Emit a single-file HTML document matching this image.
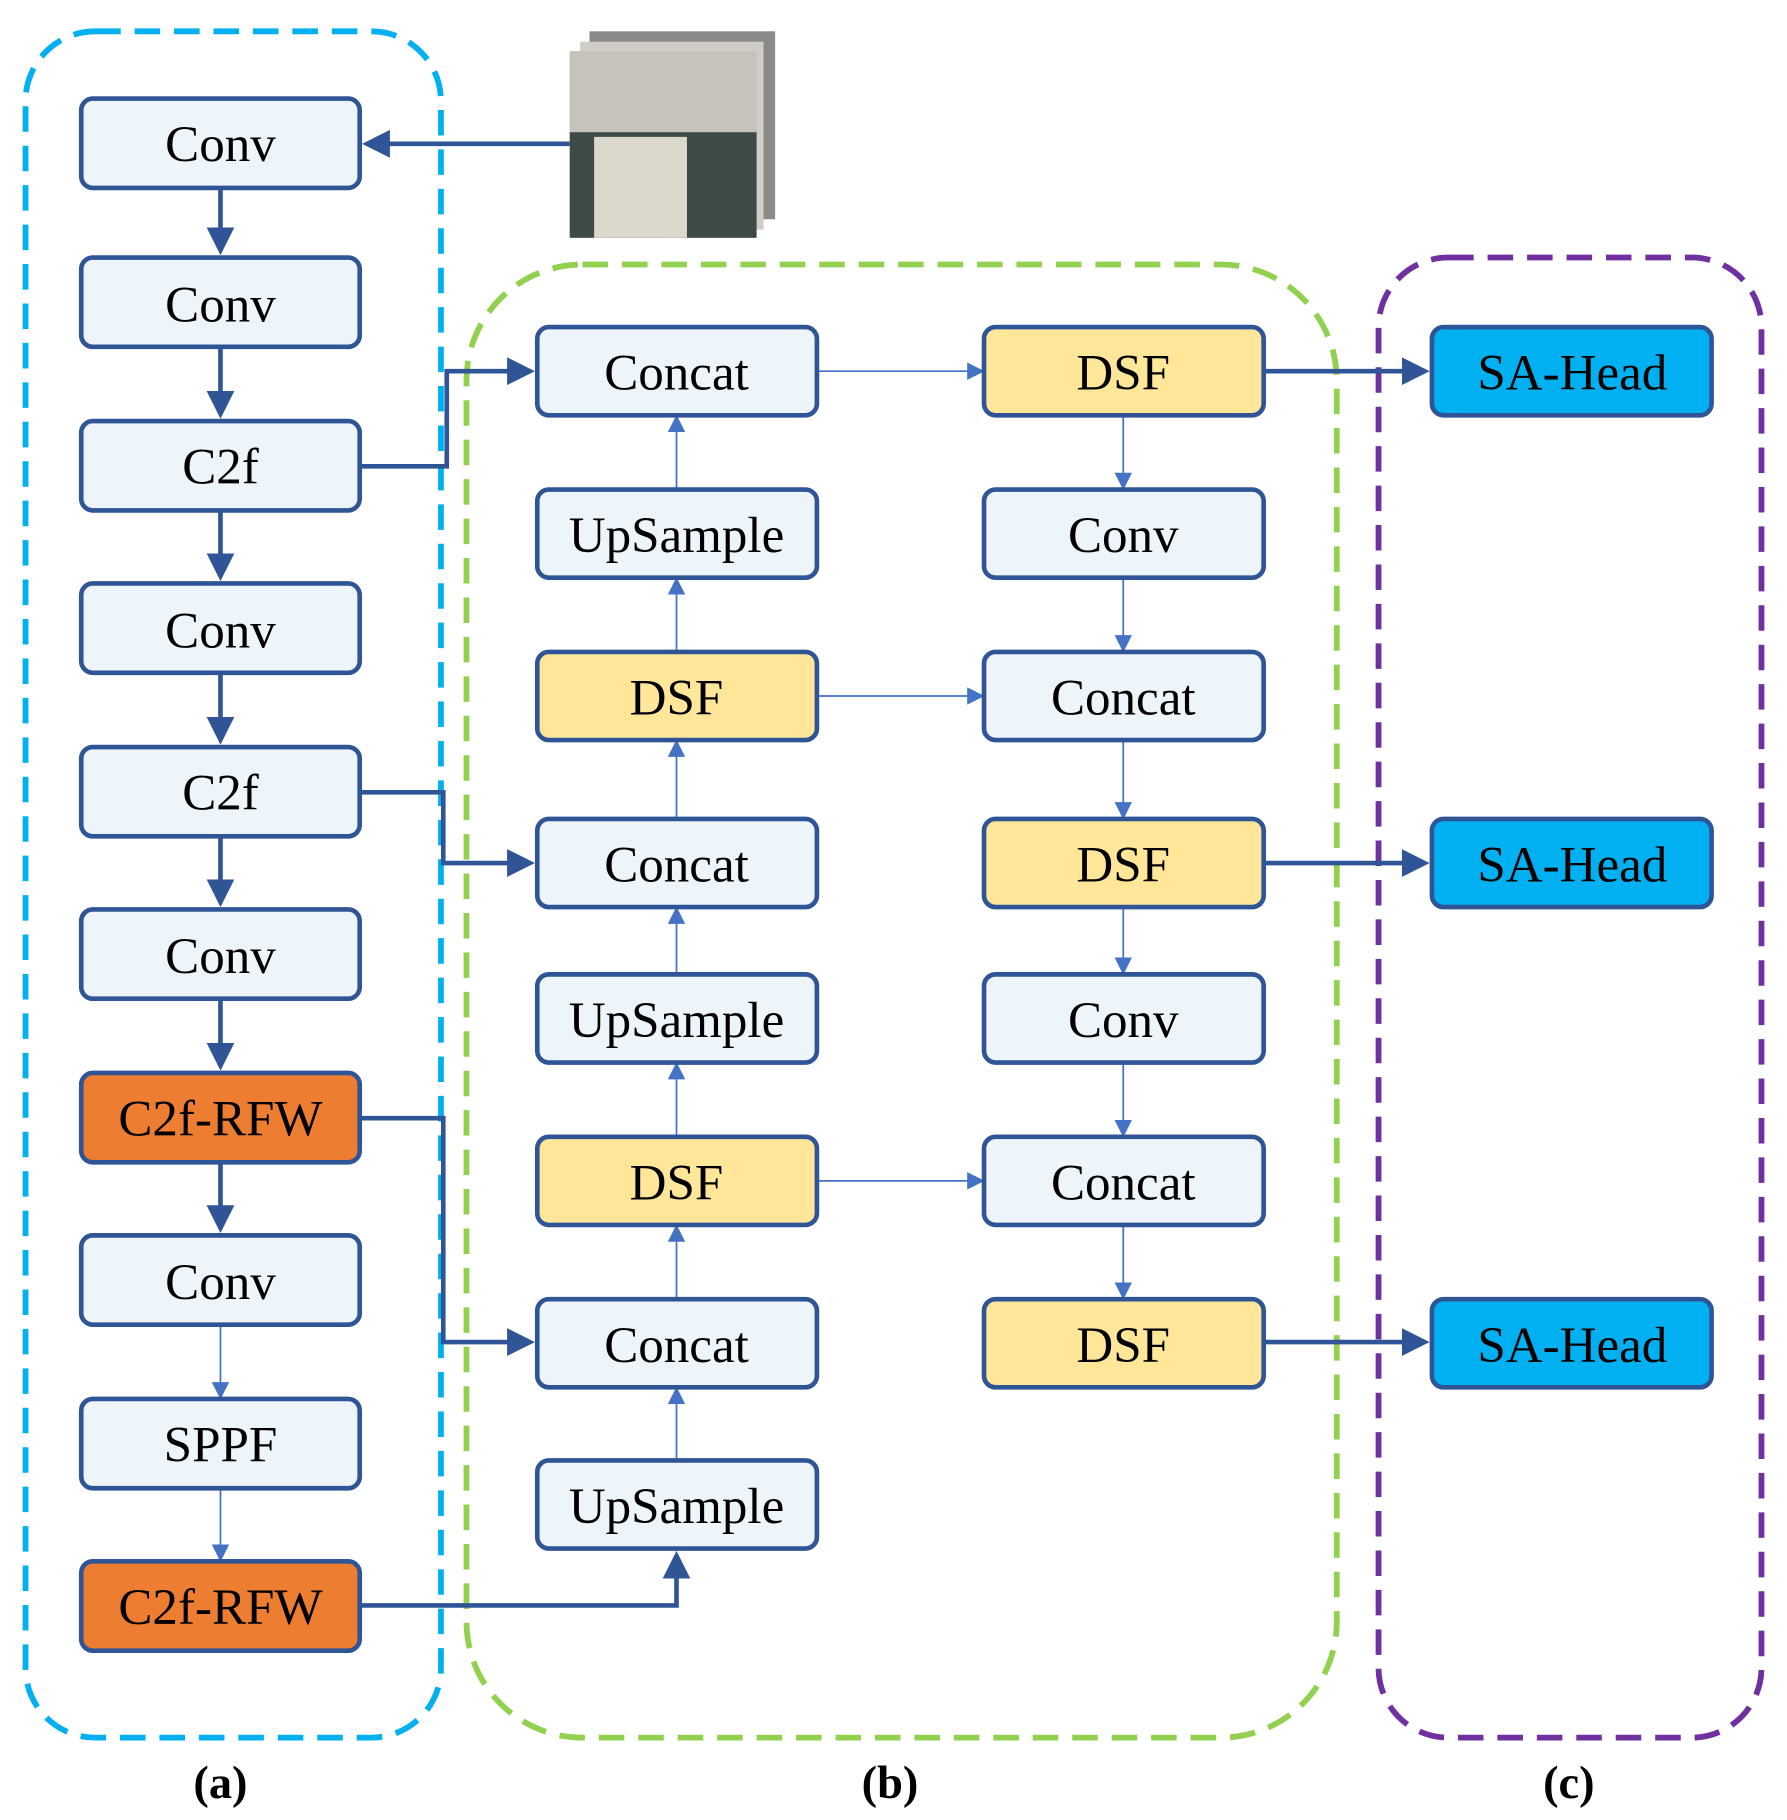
<!DOCTYPE html>
<html><head><meta charset="utf-8"><style>html,body{margin:0;padding:0;background:#fff}svg{display:block}</style></head><body>
<svg width="1787" height="1820" viewBox="0 0 1540 1569" preserveAspectRatio="none" xmlns="http://www.w3.org/2000/svg" font-family="Liberation Serif, serif">
<defs>
<marker id="ad" markerWidth="6" markerHeight="6" refX="5" refY="3" orient="auto" markerUnits="strokeWidth"><path d="M0,0 L6,3 L0,6z" fill="#2F5597"/></marker>
<marker id="al" markerWidth="10" markerHeight="10" refX="9" refY="5" orient="auto" markerUnits="strokeWidth"><path d="M0,0 L10,5 L0,10z" fill="#4472C4"/></marker>
</defs>
<rect x="22" y="27" width="358" height="1471" rx="60" fill="none" stroke="#00B0F0" stroke-width="5" stroke-dasharray="22,12"/>
<rect x="402" y="228" width="750" height="1270" rx="100" fill="none" stroke="#92D050" stroke-width="5" stroke-dasharray="22,12"/>
<rect x="1188" y="222" width="330" height="1276" rx="60" fill="none" stroke="#7030A0" stroke-width="5" stroke-dasharray="22,12"/>
<rect x="508" y="27" width="160" height="162" fill="#8a8a88"/>
<rect x="500" y="36" width="158" height="162" fill="#cfcdc6"/>
<rect x="491" y="44" width="161" height="161" fill="#b9b8b0"/>
<rect x="491" y="44" width="161" height="70" fill="#c5c3ba"/>
<rect x="491" y="114" width="161" height="91" fill="#3e4a48"/>
<rect x="512" y="118" width="80" height="87" fill="#dcd8cc"/>
<g stroke="#2F5597" stroke-width="4" fill="none">
<line x1="491" y1="124" x2="316" y2="124" marker-end="url(#ad)"/>
<line x1="190" y1="162" x2="190" y2="216" marker-end="url(#ad)"/>
<line x1="190" y1="299" x2="190" y2="357" marker-end="url(#ad)"/>
<line x1="190" y1="440" x2="190" y2="497" marker-end="url(#ad)"/>
<line x1="190" y1="580" x2="190" y2="638" marker-end="url(#ad)"/>
<line x1="190" y1="721" x2="190" y2="778" marker-end="url(#ad)"/>
<line x1="190" y1="861" x2="190" y2="919" marker-end="url(#ad)"/>
<line x1="190" y1="1002" x2="190" y2="1059" marker-end="url(#ad)"/>
<polyline points="310,402 385,402 385,320 457,320" marker-end="url(#ad)"/>
<polyline points="310,683 382,683 382,744 457,744" marker-end="url(#ad)"/>
<polyline points="310,964 382,964 382,1157 457,1157" marker-end="url(#ad)"/>
<polyline points="310,1384 583,1384 583,1341" marker-end="url(#ad)"/>
<line x1="1089" y1="320" x2="1228" y2="320" marker-end="url(#ad)"/>
<line x1="1089" y1="744" x2="1228" y2="744" marker-end="url(#ad)"/>
<line x1="1089" y1="1157" x2="1228" y2="1157" marker-end="url(#ad)"/>
</g>
<g stroke="#4472C4" stroke-width="1.5" fill="none">
<line x1="190" y1="1143" x2="190" y2="1205" marker-end="url(#al)"/>
<line x1="190" y1="1283" x2="190" y2="1345" marker-end="url(#al)"/>
<line x1="583" y1="1259" x2="583" y2="1197" marker-end="url(#al)"/>
<line x1="583" y1="1120" x2="583" y2="1057" marker-end="url(#al)"/>
<line x1="583" y1="980" x2="583" y2="917" marker-end="url(#al)"/>
<line x1="583" y1="840" x2="583" y2="783" marker-end="url(#al)"/>
<line x1="583" y1="706" x2="583" y2="639" marker-end="url(#al)"/>
<line x1="583" y1="562" x2="583" y2="499" marker-end="url(#al)"/>
<line x1="583" y1="422" x2="583" y2="359" marker-end="url(#al)"/>
<line x1="968" y1="358" x2="968" y2="421" marker-end="url(#al)"/>
<line x1="968" y1="498" x2="968" y2="561" marker-end="url(#al)"/>
<line x1="968" y1="638" x2="968" y2="705" marker-end="url(#al)"/>
<line x1="968" y1="782" x2="968" y2="839" marker-end="url(#al)"/>
<line x1="968" y1="916" x2="968" y2="979" marker-end="url(#al)"/>
<line x1="968" y1="1056" x2="968" y2="1119" marker-end="url(#al)"/>
<line x1="704" y1="320" x2="847" y2="320" marker-end="url(#al)"/>
<line x1="704" y1="600" x2="847" y2="600" marker-end="url(#al)"/>
<line x1="704" y1="1018" x2="847" y2="1018" marker-end="url(#al)"/>
</g>
<g stroke="#2F5597" stroke-width="4">
<rect x="70" y="85" width="240" height="77" rx="10" fill="#EEF5FA"/>
<rect x="70" y="222" width="240" height="77" rx="10" fill="#EEF5FA"/>
<rect x="70" y="363" width="240" height="77" rx="10" fill="#EEF5FA"/>
<rect x="70" y="503" width="240" height="77" rx="10" fill="#EEF5FA"/>
<rect x="70" y="644" width="240" height="77" rx="10" fill="#EEF5FA"/>
<rect x="70" y="784" width="240" height="77" rx="10" fill="#EEF5FA"/>
<rect x="70" y="925" width="240" height="77" rx="10" fill="#ED7D31"/>
<rect x="70" y="1065" width="240" height="77" rx="10" fill="#EEF5FA"/>
<rect x="70" y="1206" width="240" height="77" rx="10" fill="#EEF5FA"/>
<rect x="70" y="1346" width="240" height="77" rx="10" fill="#ED7D31"/>
<rect x="463" y="282" width="241" height="76" rx="10" fill="#EEF5FA"/>
<rect x="463" y="422" width="241" height="76" rx="10" fill="#EEF5FA"/>
<rect x="463" y="562" width="241" height="76" rx="10" fill="#FFE699"/>
<rect x="463" y="706" width="241" height="76" rx="10" fill="#EEF5FA"/>
<rect x="463" y="840" width="241" height="76" rx="10" fill="#EEF5FA"/>
<rect x="463" y="980" width="241" height="76" rx="10" fill="#FFE699"/>
<rect x="463" y="1120" width="241" height="76" rx="10" fill="#EEF5FA"/>
<rect x="463" y="1259" width="241" height="76" rx="10" fill="#EEF5FA"/>
<rect x="848" y="282" width="241" height="76" rx="10" fill="#FFE699"/>
<rect x="848" y="422" width="241" height="76" rx="10" fill="#EEF5FA"/>
<rect x="848" y="562" width="241" height="76" rx="10" fill="#EEF5FA"/>
<rect x="848" y="706" width="241" height="76" rx="10" fill="#FFE699"/>
<rect x="848" y="840" width="241" height="76" rx="10" fill="#EEF5FA"/>
<rect x="848" y="980" width="241" height="76" rx="10" fill="#EEF5FA"/>
<rect x="848" y="1120" width="241" height="76" rx="10" fill="#FFE699"/>
<rect x="1234" y="282" width="241" height="76" rx="10" fill="#00B0F0"/>
<rect x="1234" y="706" width="241" height="76" rx="10" fill="#00B0F0"/>
<rect x="1234" y="1120" width="241" height="76" rx="10" fill="#00B0F0"/>
</g>
<g font-size="44" text-anchor="middle" fill="#000">
<text x="190" y="139">Conv</text><text x="190" y="277">Conv</text><text x="190" y="417">C2f</text>
<text x="190" y="558">Conv</text><text x="190" y="698">C2f</text><text x="190" y="839">Conv</text>
<text x="190" y="979">C2f-RFW</text><text x="190" y="1120">Conv</text><text x="190" y="1260">SPPF</text>
<text x="190" y="1400">C2f-RFW</text>
<text x="583" y="336">Concat</text><text x="583" y="476">UpSample</text><text x="583" y="616">DSF</text>
<text x="583" y="760">Concat</text><text x="583" y="894">UpSample</text><text x="583" y="1034">DSF</text>
<text x="583" y="1174">Concat</text><text x="583" y="1313">UpSample</text>
<text x="968" y="336">DSF</text><text x="968" y="476">Conv</text><text x="968" y="616">Concat</text>
<text x="968" y="760">DSF</text><text x="968" y="894">Conv</text><text x="968" y="1034">Concat</text>
<text x="968" y="1174">DSF</text>
<text x="1355" y="336">SA-Head</text><text x="1355" y="760">SA-Head</text><text x="1355" y="1174">SA-Head</text>
</g>
<g font-size="40" font-weight="bold" text-anchor="middle">
<text x="190" y="1550">(a)</text><text x="767" y="1550">(b)</text><text x="1352" y="1550">(c)</text>
</g>
</svg>
</body></html>
